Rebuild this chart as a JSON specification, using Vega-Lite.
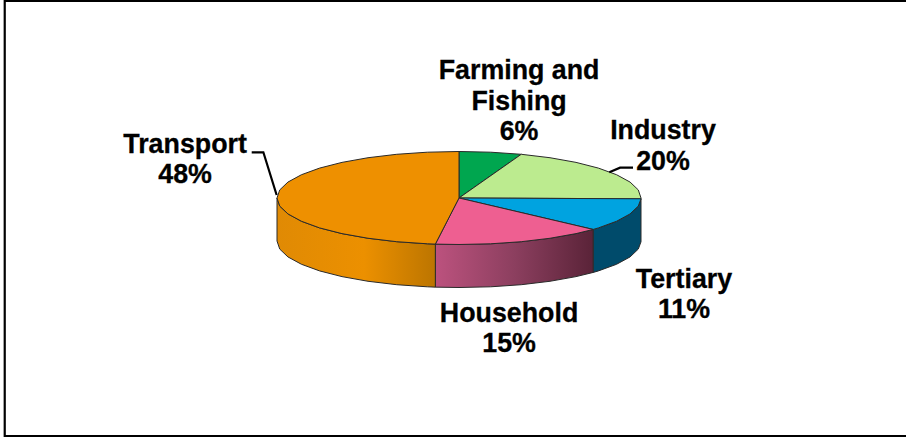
{
"$schema":"https://vega.github.io/schema/vega-lite/v6.json",
"width":906,"height":437,
"autosize":{"type":"none"},
"padding":0,
"background":"white",
"config":{"view":{"stroke":null}},
"datasets":{
"walls":[
{"slice":"Tertiary","i":1,"ux":1.0,"uy":-0.017},{"slice":"Tertiary","i":2,"ux":0.985,"uy":-0.174},{"slice":"Tertiary","i":3,"ux":0.94,"uy":-0.342},{"slice":"Tertiary","i":4,"ux":0.866,"uy":-0.5},{"slice":"Tertiary","i":5,"ux":0.766,"uy":-0.643},{"slice":"Tertiary","i":6,"ux":0.737,"uy":-0.676},{"slice":"Tertiary","i":7,"ux":0.737,"uy":-1.601},{"slice":"Tertiary","i":8,"ux":0.766,"uy":-1.568},{"slice":"Tertiary","i":9,"ux":0.866,"uy":-1.425},{"slice":"Tertiary","i":10,"ux":0.94,"uy":-1.267},{"slice":"Tertiary","i":11,"ux":0.985,"uy":-1.099},{"slice":"Tertiary","i":12,"ux":1.0,"uy":-0.942},{"slice":"Tertiary","i":13,"ux":1.0,"uy":-0.017},
{"slice":"Household","i":1,"ux":0.737,"uy":-0.676},{"slice":"Household","i":2,"ux":0.643,"uy":-0.766},{"slice":"Household","i":3,"ux":0.5,"uy":-0.866},{"slice":"Household","i":4,"ux":0.342,"uy":-0.94},{"slice":"Household","i":5,"ux":0.174,"uy":-0.985},{"slice":"Household","i":6,"ux":0,"uy":-1},{"slice":"Household","i":7,"ux":-0.13,"uy":-0.992},{"slice":"Household","i":8,"ux":-0.13,"uy":-1.917},{"slice":"Household","i":9,"ux":0,"uy":-1.925},{"slice":"Household","i":10,"ux":0.174,"uy":-1.91},{"slice":"Household","i":11,"ux":0.342,"uy":-1.865},{"slice":"Household","i":12,"ux":0.5,"uy":-1.791},{"slice":"Household","i":13,"ux":0.643,"uy":-1.691},{"slice":"Household","i":14,"ux":0.737,"uy":-1.601},{"slice":"Household","i":15,"ux":0.737,"uy":-0.676},
{"slice":"Transport","i":1,"ux":-0.13,"uy":-0.992},{"slice":"Transport","i":2,"ux":-0.174,"uy":-0.985},{"slice":"Transport","i":3,"ux":-0.342,"uy":-0.94},{"slice":"Transport","i":4,"ux":-0.5,"uy":-0.866},{"slice":"Transport","i":5,"ux":-0.643,"uy":-0.766},{"slice":"Transport","i":6,"ux":-0.766,"uy":-0.643},{"slice":"Transport","i":7,"ux":-0.866,"uy":-0.5},{"slice":"Transport","i":8,"ux":-0.94,"uy":-0.342},{"slice":"Transport","i":9,"ux":-0.985,"uy":-0.174},{"slice":"Transport","i":10,"ux":-1,"uy":0},{"slice":"Transport","i":11,"ux":-1,"uy":-0.925},{"slice":"Transport","i":12,"ux":-0.985,"uy":-1.099},{"slice":"Transport","i":13,"ux":-0.94,"uy":-1.267},{"slice":"Transport","i":14,"ux":-0.866,"uy":-1.425},{"slice":"Transport","i":15,"ux":-0.766,"uy":-1.568},{"slice":"Transport","i":16,"ux":-0.643,"uy":-1.691},{"slice":"Transport","i":17,"ux":-0.5,"uy":-1.791},{"slice":"Transport","i":18,"ux":-0.342,"uy":-1.865},{"slice":"Transport","i":19,"ux":-0.174,"uy":-1.91},{"slice":"Transport","i":20,"ux":-0.13,"uy":-1.917},{"slice":"Transport","i":21,"ux":-0.13,"uy":-0.992}
],
"faces":[
{"slice":"Farming and Fishing","i":0,"ux":0,"uy":0},{"slice":"Farming and Fishing","i":1,"ux":0,"uy":1},{"slice":"Farming and Fishing","i":2,"ux":0.174,"uy":0.985},{"slice":"Farming and Fishing","i":3,"ux":0.342,"uy":0.94},{"slice":"Farming and Fishing","i":5,"ux":0,"uy":0},
{"slice":"Industry","i":0,"ux":0,"uy":0},{"slice":"Industry","i":1,"ux":0.342,"uy":0.94},{"slice":"Industry","i":2,"ux":0.5,"uy":0.866},{"slice":"Industry","i":3,"ux":0.643,"uy":0.766},{"slice":"Industry","i":4,"ux":0.766,"uy":0.643},{"slice":"Industry","i":5,"ux":0.866,"uy":0.5},{"slice":"Industry","i":6,"ux":0.94,"uy":0.342},{"slice":"Industry","i":7,"ux":0.985,"uy":0.174},{"slice":"Industry","i":8,"ux":1,"uy":0},{"slice":"Industry","i":9,"ux":1,"uy":-0.017},{"slice":"Industry","i":10,"ux":0,"uy":0},
{"slice":"Tertiary","i":0,"ux":0,"uy":0},{"slice":"Tertiary","i":1,"ux":1,"uy":-0.017},{"slice":"Tertiary","i":2,"ux":0.985,"uy":-0.174},{"slice":"Tertiary","i":3,"ux":0.94,"uy":-0.342},{"slice":"Tertiary","i":4,"ux":0.866,"uy":-0.5},{"slice":"Tertiary","i":5,"ux":0.766,"uy":-0.643},{"slice":"Tertiary","i":6,"ux":0.737,"uy":-0.676},{"slice":"Tertiary","i":7,"ux":0,"uy":0},
{"slice":"Household","i":0,"ux":0,"uy":0},{"slice":"Household","i":1,"ux":0.737,"uy":-0.676},{"slice":"Household","i":2,"ux":0.643,"uy":-0.766},{"slice":"Household","i":3,"ux":0.5,"uy":-0.866},{"slice":"Household","i":4,"ux":0.342,"uy":-0.94},{"slice":"Household","i":5,"ux":0.174,"uy":-0.985},{"slice":"Household","i":6,"ux":0,"uy":-1},{"slice":"Household","i":7,"ux":-0.13,"uy":-0.992},{"slice":"Household","i":8,"ux":0,"uy":0},
{"slice":"Transport","i":0,"ux":0,"uy":0},{"slice":"Transport","i":1,"ux":-0.13,"uy":-0.992},{"slice":"Transport","i":2,"ux":-0.174,"uy":-0.985},{"slice":"Transport","i":3,"ux":-0.342,"uy":-0.94},{"slice":"Transport","i":4,"ux":-0.5,"uy":-0.866},{"slice":"Transport","i":5,"ux":-0.643,"uy":-0.766},{"slice":"Transport","i":6,"ux":-0.766,"uy":-0.643},{"slice":"Transport","i":7,"ux":-0.866,"uy":-0.5},{"slice":"Transport","i":8,"ux":-0.94,"uy":-0.342},{"slice":"Transport","i":9,"ux":-0.985,"uy":-0.174},{"slice":"Transport","i":10,"ux":-1,"uy":0},{"slice":"Transport","i":11,"ux":-0.985,"uy":0.174},{"slice":"Transport","i":12,"ux":-0.94,"uy":0.342},{"slice":"Transport","i":13,"ux":-0.866,"uy":0.5},{"slice":"Transport","i":14,"ux":-0.766,"uy":0.643},{"slice":"Transport","i":15,"ux":-0.643,"uy":0.766},{"slice":"Transport","i":16,"ux":-0.5,"uy":0.866},{"slice":"Transport","i":17,"ux":-0.342,"uy":0.94},{"slice":"Transport","i":18,"ux":-0.174,"uy":0.985},{"slice":"Transport","i":19,"ux":0,"uy":1},{"slice":"Transport","i":20,"ux":0,"uy":0}
],
"lines":[
{"name":"frame","i":1,"ux":2.456,"uy":4.237},{"name":"frame","i":2,"ux":-2.496,"uy":4.237},{"name":"frame","i":3,"ux":-2.496,"uy":-5.118},{"name":"frame","i":4,"ux":2.456,"uy":-5.118},
{"name":"Transport leader","i":1,"ux":-1.139,"uy":0.983},{"name":"Transport leader","i":2,"ux":-1.075,"uy":0.983},{"name":"Transport leader","i":3,"ux":-1.002,"uy":0.065},
{"name":"Industry leader","i":1,"ux":0.956,"uy":0.652},{"name":"Industry leader","i":2,"ux":0.885,"uy":0.652},{"name":"Industry leader","i":3,"ux":0.826,"uy":0.553}
],
"labels":[
{"text":"Transport","ux":-1.505,"uy":0.974},{"text":"48%","ux":-1.505,"uy":0.323},
{"text":"Farming and","ux":0.33,"uy":2.56},{"text":"Fishing","ux":0.33,"uy":1.893},{"text":"6%","ux":0.33,"uy":1.247},
{"text":"Industry","ux":1.121,"uy":1.27},{"text":"20%","ux":1.121,"uy":0.6},
{"text":"Tertiary","ux":1.236,"uy":-1.935},{"text":"11%","ux":1.236,"uy":-2.58},
{"text":"Household","ux":0.275,"uy":-2.665},{"text":"15%","ux":0.275,"uy":-3.31}
]
},
"encoding":{
"x":{"field":"ux","type":"quantitative","scale":{"domain":[-2.522,2.456],"nice":false,"zero":false},"axis":null},
"y":{"field":"uy","type":"quantitative","scale":{"domain":[-5.14,4.258],"nice":false,"zero":false},"axis":null}
},
"layer":[
{"data":{"name":"walls"},"transform":[{"filter":"datum.slice==='Tertiary'"}],
 "mark":{"type":"line","fill":"#004B6B","stroke":"#2a2a2a","strokeWidth":1},
 "encoding":{"order":{"field":"i","type":"quantitative"}}},
{"data":{"name":"walls"},"transform":[{"filter":"datum.slice==='Household'"}],
 "mark":{"type":"line","stroke":"#2a2a2a","strokeWidth":1,"fill":{"gradient":"linear","x1":0,"y1":0,"x2":1,"y2":0,"stops":[{"offset":0,"color":"#BC527E"},{"offset":0.5,"color":"#8C3F5F"},{"offset":1,"color":"#5A2338"}]}},
 "encoding":{"order":{"field":"i","type":"quantitative"}}},
{"data":{"name":"walls"},"transform":[{"filter":"datum.slice==='Transport'"}],
 "mark":{"type":"line","stroke":"#2a2a2a","strokeWidth":1,"fill":{"gradient":"linear","x1":0,"y1":0,"x2":1,"y2":0,"stops":[{"offset":0,"color":"#E08A04"},{"offset":0.55,"color":"#EC9000"},{"offset":1,"color":"#BC7500"}]}},
 "encoding":{"order":{"field":"i","type":"quantitative"}}},
{"data":{"name":"faces"},
 "mark":{"type":"line","filled":true,"stroke":"#2a2a2a","strokeWidth":1},
 "encoding":{"order":{"field":"i","type":"quantitative"},
  "color":{"field":"slice","type":"nominal","legend":null,
   "scale":{"domain":["Farming and Fishing","Industry","Tertiary","Household","Transport"],"range":["#00A64F","#BCEB8F","#00A3E0","#EE5F91","#EE9000"]}}}},
{"data":{"name":"lines"},
 "mark":{"type":"line","color":"#000000","strokeWidth":2.2,"clip":false},
 "encoding":{"order":{"field":"i","type":"quantitative"},"detail":{"field":"name","type":"nominal"}}},
{"data":{"name":"labels"},
 "mark":{"type":"text","font":"Liberation Sans","fontWeight":"bold","fontSize":26.8,"align":"center","baseline":"alphabetic","color":"#000000","stroke":"#000000","strokeWidth":0.3},
 "encoding":{"text":{"field":"text","type":"nominal"}}}
]
}
